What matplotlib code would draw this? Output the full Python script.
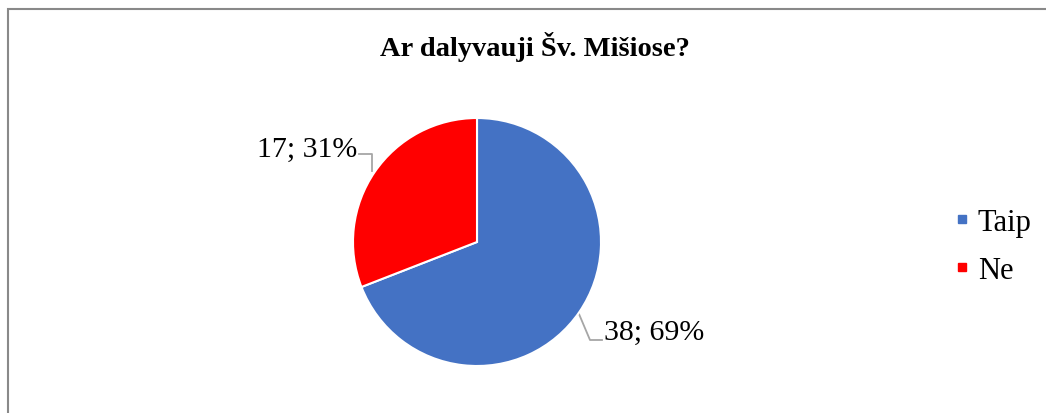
import matplotlib.pyplot as plt
from matplotlib.lines import Line2D

categories = ['Taip', 'Ne']
counts = [38, 17]
colors = ['#4472C4', '#FF0000']
title = 'Ar dalyvauji Šv. Mišiose?'

plt.rcParams['font.family'] = ['Liberation Serif', 'DejaVu Serif']

W, H = 1046, 414
fig = plt.figure(figsize=(W / 100, H / 100), dpi=100)
ax = fig.add_axes([0, 0, 1, 1])
ax.set_xlim(0, W)
ax.set_ylim(H, 0)
ax.axis('off')

# chart frame (only top and left edges visible)
ax.plot([7.5, 7.5, W], [H, 9.5, 9.5], color='#898989', lw=1.5, solid_joinstyle='miter')

ax.text(535, 47, title, ha='center', va='center', fontsize=20.5, fontweight='bold')

# pie drawn in its own axes, y up
pax = fig.add_axes([0, 0, 1, 1])
cx, cy, r = 477, H - 243, 124
wedges, _ = pax.pie(counts, colors=colors, startangle=90, counterclock=False,
                    center=(cx, cy), radius=r, frame=True,
                    wedgeprops=dict(edgecolor='white', linewidth=1.5))
pax.set_xlim(0, W)
pax.set_ylim(0, H)
pax.axis('off')

total = sum(counts)
labels = [f'{c}; {round(100 * c / total)}%' for c in counts]

# data labels with leader lines
lc = '#A6A6A6'
ax.plot([579, 590, 602], [315, 341, 341], color=lc, lw=1.3)
ax.text(604, 333, labels[0], ha='left', va='center', fontsize=21.5)
ax.plot([359, 372, 372], [155, 155, 172], color=lc, lw=1.3)
ax.text(357, 150, labels[1], ha='right', va='center', fontsize=21.5)

handles = [Line2D([], [], marker='s', linestyle='none', markersize=6,
                  markerfacecolor=c, markeredgecolor=c) for c in colors]
ax.legend(handles, categories, loc='center left', bbox_to_anchor=(955 / W, 1 - 247.5 / H),
          frameon=False, fontsize=22, handlelength=0.45, handletextpad=0.3,
          labelspacing=0.62, borderpad=0, borderaxespad=0)

fig.savefig('out.png', dpi=100)
